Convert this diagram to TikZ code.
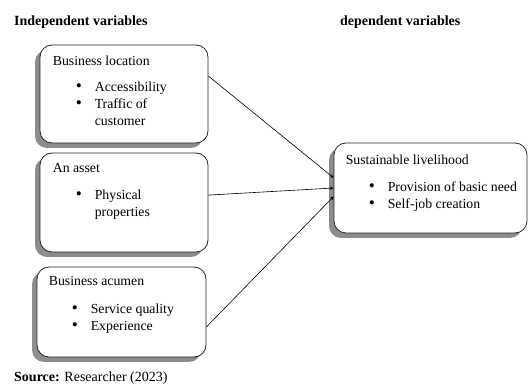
\documentclass[tikz,border=0pt]{standalone}
\usepackage{fontspec}
\setmainfont{Liberation Serif}
\usetikzlibrary{shadows}

% bullet item and continuation line inside a box
\newcommand{\itm}{\makebox[42pt][r]{\scalebox{1.25}{\textbullet}\hspace{13pt}}}
\newcommand{\nxt}{\hspace*{42pt}}

\begin{document}
\begin{tikzpicture}[x=1pt, y=1pt,
  varbox/.style={draw=black!85, line width=0.8pt, rounded corners=12pt, fill=white,
    drop shadow={shadow xshift=-5pt, shadow yshift=-5pt, fill=black!45, opacity=1}},
  boxtext/.style={anchor=north west, inner sep=0pt, align=left, font=\fontsize{13.8}{17}\selectfont},
  head/.style={anchor=base west, inner sep=0pt, font=\fontsize{14}{16}\selectfont\bfseries}]
\useasboundingbox (0,0) rectangle (530,385);

% Headings
\node[head] (indep) at (14,359) {Independent variables};
\node[head] (dep) at (340,359) {dependent variables};

% Independent variables
\node[varbox, minimum width=168, minimum height=98] (loc) at (124,291) {};
\node[boxtext] (loctxt) at ([xshift=13, yshift=-11]loc.north west)
  {Business location\\[9pt] \itm Accessibility\\ \itm Traffic of\\ \nxt customer};

\node[varbox, minimum width=168, minimum height=99] (asset) at (124,182.5) {};
\node[boxtext] (assettxt) at ([xshift=13, yshift=-11]asset.north west)
  {An asset\\[10pt] \itm Physical\\ \nxt properties};

\node[varbox, minimum width=169, minimum height=90] (acumen) at (121.5,73) {};
\node[boxtext] (acumentxt) at ([xshift=12, yshift=-10]acumen.north west)
  {Business acumen\\[11pt] \itm Service quality\\ \itm Experience};

% Dependent variable
\node[varbox, minimum width=193, minimum height=90] (live) at (430.5,197) {};
\node[boxtext] (livetxt) at ([xshift=12, yshift=-12]live.north west)
  {Sustainable livelihood\\[10pt] \itm Provision of basic need\\ \itm Self-job creation};

% Links
\draw[->, >=stealth, line width=0.6pt] (loc.12) -- (live.174);
\draw[->, >=stealth, line width=0.6pt] (asset.5) -- (live.180);
\draw[->, >=stealth, line width=0.6pt] (acumen.-10) -- (live.185);

% Source line
\node[anchor=base west, inner sep=0pt, font=\fontsize{14}{16}\selectfont] (src) at (14,3)
  {\textbf{Source:} Researcher (2023)};
\end{tikzpicture}
\end{document}
